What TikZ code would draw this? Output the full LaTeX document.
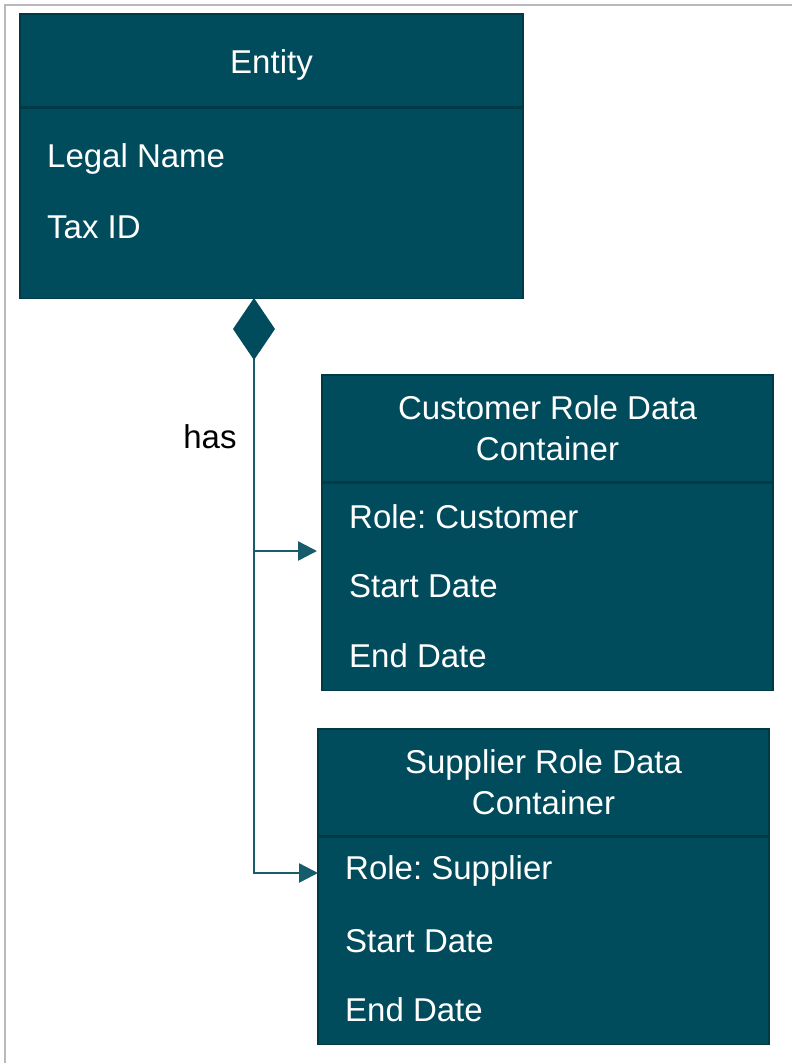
\documentclass[tikz,border=0pt]{standalone}
\usepackage{fontspec}
\setmainfont{Liberation Sans}
\usepackage{xcolor}
\usepackage{tikz}
\usetikzlibrary{arrows.meta,positioning}
\definecolor{boxteal}{RGB}{0,76,92}
\definecolor{edgeteal}{RGB}{0,58,70}
\definecolor{linkteal}{RGB}{22,92,106}
\definecolor{framegray}{RGB}{185,185,185}
\frenchspacing

\tikzset{
  classhead/.style={draw=edgeteal, fill=boxteal, line width=1.5pt, text=white,
    font=\fontsize{33}{41}\selectfont, align=center, inner sep=0pt},
  classbody/.style={draw=edgeteal, fill=boxteal, line width=1.5pt, inner sep=0pt},
  attr/.style={anchor=west, text=white, font=\fontsize{33}{41}\selectfont, inner sep=0pt},
  link/.style={draw=linkteal, line width=2.5pt},
}

\begin{document}
\begin{tikzpicture}[x=1pt,y=-1pt]
        \useasboundingbox (0,0) rectangle (792,1063);
        \draw[framegray, line width=2pt] (5,1063) -- (5,5) -- (792,5);
        % entity
        \node[classhead, minimum width=503pt, minimum height=93pt] (entity) at (271.5,60.5) {\raisebox{-4pt}[24pt][7pt]{Entity}};
        \node[classbody, minimum width=503pt, minimum height=190pt, below=0pt of entity] (entitybody) {};
        \node[attr] (legalname) at (47,159) {Legal Name};
        \node[attr] (taxid) at (47,227) {Tax ID};
        % customer role
        \node[classhead, minimum width=451pt, minimum height=107pt] (customer) at (547.5,428.5) {Customer Role Data\\Container};
        \node[classbody, minimum width=451pt, minimum height=207pt, below=0pt of customer] (customerbody) {};
        \node[attr] (custrole) at (349,517) {Role: Customer};
        \node[attr] (custstart) at (349,586) {Start Date};
        \node[attr] (custend) at (349,656) {End Date};
        % supplier role
        \node[classhead, minimum width=451pt, minimum height=107pt] (supplier) at (543.5,782.5) {Supplier Role Data\\Container};
        \node[classbody, minimum width=451pt, minimum height=207pt, below=0pt of supplier] (supplierbody) {};
        \node[attr] (suprole) at (345,871) {Role: Supplier};
        \node[attr] (supstart) at (345,941) {Start Date};
        \node[attr] (supend) at (345,1010) {End Date};
        % composition link
        \coordinate (hasstart) at (254,298);
        \coordinate (fork) at (254,551);
        \coordinate (custin) at (317,551);
        \coordinate (supin) at (318,873);
        \draw[link, {Diamond[length=62pt,width=42pt,fill=boxteal,color=boxteal]}-{Triangle[length=19pt,width=19pt]}] (hasstart) |- (supin);
        \draw[link, -{Triangle[length=19pt,width=19pt]}] (fork) -- (custin);
        \node[font=\fontsize{33}{41}\selectfont, inner sep=0pt] (haslabel) at (210,437) {has};
      \end{tikzpicture}
\end{document}
